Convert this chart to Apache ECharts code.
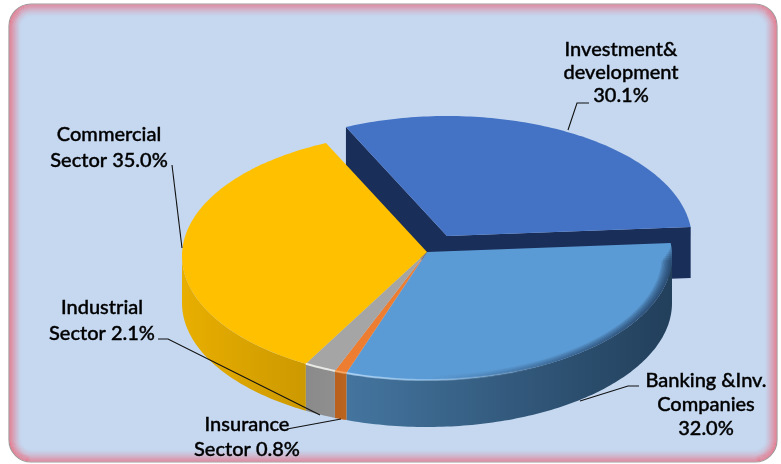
<!DOCTYPE html>
<html><head><meta charset="utf-8">
<style>html,body{margin:0;padding:0;background:#fff}#c{width:781px;height:464px}</style>
<script src="https://cdn.jsdelivr.net/npm/echarts@6/dist/echarts.min.js"></script>
</head><body><div id="c"></div>
<script>
const sectors = ['Investment&\ndevelopment', 'Banking &Inv.\nCompanies', 'Insurance\nSector', 'Industrial\nSector', 'Commercial\nSector'];
const shares = [30.1, 32.0, 0.8, 2.1, 35.0];

const topColors = ['#4472c4', '#5b9bd5', '#ed7d31', '#a5a5a5', '#ffc000'];
const wallColors = [['#1a2e5a', '#1a2e5a'], ['#44759f', '#223f5b'], ['#bc651f', '#b8601c'], ['#8f8f8f', '#8a8a8a'], ['#e8ae00', '#cc9900']];
const C = {x: 427, apexY: 252, ellY: 256, rx: 245, ry: 124, depth: 47, start: -6, explode: [20, -16]};

function sliceAngles(i) {
  const total = shares.reduce((a, b) => a + b, 0);
  let a = C.start;
  for (let k = 1; k < i + (i === 0 ? shares.length : 0); k++) a += shares[k] / total * 360;
  if (i === 0) return [a, a + shares[0] / total * 360];
  return [a, a + shares[i] / total * 360];
}
function edge(deg, s) {
  const t = deg * Math.PI / 180;
  return [C.x + C.rx * (s || 1) * Math.cos(t), C.ellY + C.ry * (s || 1) * Math.sin(t)];
}
function arc(a, b, s, dx, dy) {
  const pts = [], n = Math.max(2, Math.ceil(Math.abs(b - a)));
  for (let i = 0; i <= n; i++) { const p = edge(a + (b - a) * i / n, s); pts.push([p[0] + (dx || 0), p[1] + (dy || 0)]); }
  return pts;
}
function hGrad(c1, c2) {
  return {type: 'linear', x: 0, y: 0, x2: 1, y2: 0, colorStops: [{offset: 0, color: c1}, {offset: 1, color: c2}]};
}
function poly(points, fill, z2) {
  return {type: 'polygon', shape: {points}, style: {fill, stroke: null}, z2: z2 || 0, silent: true};
}
function renderSlice(params, api) {
  const i = params.dataIndex;
  const [a, b] = sliceAngles(i);
  const ch = [];
  if (i === 0) {
    const [ox, oy] = C.explode;
    const apex = [C.x + ox, C.apexY + oy];
    const p1 = arc(a, a, 1, ox, oy)[0], p2 = arc(b, b, 1, ox, oy)[0];
    const d = C.depth + 4;
    ch.push(poly([apex, p1, [p1[0], p1[1] + d], [apex[0], apex[1] + d]], wallColors[0][0]));
    ch.push(poly([apex, p2, [p2[0], p2[1] + d], [apex[0], apex[1] + d]], wallColors[0][0]));
    ch.push(poly([apex].concat(arc(a, b, 1, ox, oy)), topColors[0], 1));
    return {type: 'group', children: ch};
  }
  const fa = Math.max(a, 0), fb = Math.min(b, 180);
  if (i === 1) {
    const ra = arc(a, 0, 1);
    ch.push(poly(ra.concat(ra.map(p => [p[0], p[1] + C.depth]).reverse()), '#223f5b'));
  }
  const top = arc(fa, fb, 1);
  const bot = arc(fa, fb, 1, 0, C.depth).reverse();
  ch.push(poly(top.concat(bot), i === 1 ? hGrad(wallColors[1][0], wallColors[1][1]) : hGrad(wallColors[i][1], wallColors[i][0])));
  if (i === 4) ch[ch.length - 1].style.fill = hGrad(wallColors[4][0], wallColors[4][1]);
  ch.push(poly([[C.x, C.apexY]].concat(arc(a, b, 1)), topColors[i], 1));
  if (i === 1) {
    for (let k = 1; k <= 7; k++) {
      const outer = arc(a + 1 + k, 90, 1), inner = arc(a + 1 + k, 90, 1 - k * 0.006).reverse();
      ch.push(poly(outer.concat(inner), hGrad('rgba(20,40,70,0)', 'rgba(20,40,70,0.15)'), 2));
    }
    ch.push({type: 'polyline', shape: {points: arc(60, b, 1)}, style: {stroke: hGrad('rgba(190,225,255,0.75)', 'rgba(190,225,255,0)'), lineWidth: 2, fill: null}, z2: 3, silent: true});
  }
  if (i === 2 || i === 3) {
    ch.push({type: 'polyline', shape: {points: arc(a, b, 1)}, style: {stroke: i === 3 ? 'rgba(245,245,240,0.85)' : 'rgba(255,180,110,0.7)', lineWidth: 2, fill: null}, z2: 3, silent: true});
  }
  return {type: 'group', children: ch};
}

const frame = [];
frame.push({type: 'rect', shape: {x: 9, y: 4, width: 768, height: 458, r: 22}, style: {fill: '#c5d8f0', stroke: '#a09a9c', lineWidth: 1.2}, z: 0});
for (let k = 1; k < 13; k++) {
  const alpha = 0.9 * Math.pow(1 - k / 13, 1.6);
  frame.push({type: 'rect', shape: {x: 9 + k, y: 4 + k, width: 768 - 2 * k, height: 458 - 2 * k, r: Math.max(22 - k, 4)}, style: {fill: null, stroke: 'rgba(236,106,124,' + alpha.toFixed(3) + ')', lineWidth: 1.2}, z: 0});
}
const labels = [
  {text: 'Investment&\ndevelopment\n30.1%', x: 621, y: 73, lh: 23},
  {text: 'Commercial\nSector 35.0%', x: 109, y: 148, lh: 26},
  {text: 'Industrial\nSector 2.1%', x: 102, y: 321, lh: 26},
  {text: 'Insurance\nSector 0.8%', x: 247, y: 437, lh: 25},
  {text: 'Banking &Inv.\nCompanies\n32.0%', x: 706, y: 405, lh: 24}
];
labels.forEach(l => frame.push({type: 'text', z: 5, style: {text: l.text, x: l.x, y: l.y, align: 'center', verticalAlign: 'middle', lineHeight: l.lh, fill: '#000', font: '500 20px Lato', stroke: '#000', lineWidth: 0.4}}));
const leaders = [
  [[568, 130], [577, 103], [589, 103]],
  [[172, 165], [182, 248]],
  [[158, 339], [168, 339], [320, 415]],
  [[287, 429], [341, 419]],
  [[580, 401], [628, 386], [639, 386]]
];
leaders.forEach(p => frame.push({type: 'polyline', z: 6, shape: {points: p}, style: {stroke: '#111', lineWidth: 1.1, fill: null}}));

const chart = echarts.init(document.getElementById('c'), null, {renderer: 'canvas'});
chart.setOption({
  animation: false,
  backgroundColor: '#fff',
  graphic: {elements: frame},
  series: [{
    type: 'custom', coordinateSystem: 'none', z: 3, silent: true,
    renderItem: renderSlice,
    data: sectors.map((n, i) => ({name: n, value: [shares[i]]}))
  }]
});
</script></body></html>
